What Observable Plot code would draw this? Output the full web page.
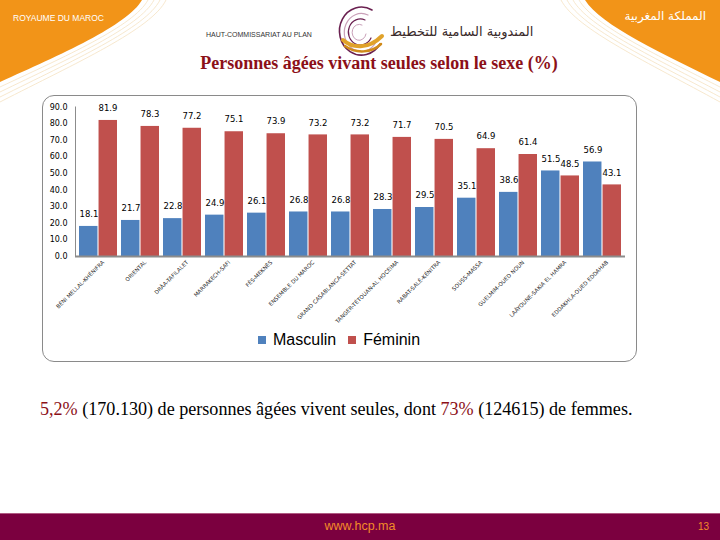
<!DOCTYPE html>
<html><head><meta charset="utf-8">
<script src="https://cdn.jsdelivr.net/npm/d3@7"></script>
<script src="https://cdn.jsdelivr.net/npm/@observablehq/plot@0.6"></script>
<style>
body{margin:0;background:#fff;}
#slide{position:relative;width:720px;height:540px;overflow:hidden;background:#fff;font-family:"Liberation Sans",Arial,sans-serif;}
.abs{position:absolute;white-space:nowrap;}
#box{position:absolute;left:42px;top:95px;width:595px;height:267px;border:1.5px solid #8a8a8a;border-radius:12px;box-sizing:border-box;}
#chart{position:absolute;left:0;top:95px;}
#legend{position:absolute;top:331px;left:258px;font-size:16px;color:#000;display:flex;align-items:center;}
#legend .sw{display:inline-block;width:8px;height:8px;margin-right:7px;}
#legend .it{display:flex;align-items:center;margin-right:12px;}
#title{position:absolute;left:0;width:758px;top:53px;text-align:center;font-family:"Liberation Serif",serif;font-weight:bold;font-size:18px;color:#8c1018;}
#note{position:absolute;left:40px;top:399px;font-family:"Liberation Serif",serif;font-size:18.1px;color:#000;}
#note .r{color:#8c1018;}
</style></head><body>
<div id="slide">
<svg width="720" height="540" style="position:absolute;left:0;top:0">
  <g fill="none" stroke="#f5e2c2" stroke-width="0.8">
    <path d="M148,0 C134,26 64,57 0,87"/>
    <path d="M154,0 C140,27 68,59 0,92"/>
    <path d="M160,0 C146,28 72,61 0,97"/>
    <path d="M166,0 C152,29 76,63 0,102"/>
    <path d="M579,0 C594,26 661,57 720,87"/>
    <path d="M573,0 C588,27 657,59 720,92"/>
    <path d="M567,0 C582,28 653,61 720,97"/>
    <path d="M561,0 C576,29 649,63 720,102"/>
  </g>
  <path d="M0,0 H142 C128,25 60,55 0,82 Z" fill="#f29418"/>
  <path d="M720,0 H585 C600,25 665,55 720,82 Z" fill="#f29418"/>
  <g fill="none" stroke-linecap="round">
    <path d="M372,10 A22,24 0 1 0 380,44" stroke="#6a2050" stroke-width="1.6"/>
    <path d="M368,15 A17,19 0 1 0 376,42" stroke="#c9a0b8" stroke-width="1.2"/>
    <path d="M365,20 A12,13 0 1 0 371,38" stroke="#6a2050" stroke-width="1.2"/>
    <path d="M362,25 A7,8 0 1 0 366,34" stroke="#c9a0b8" stroke-width="1"/>
    <path d="M343,40 C352,48 368,50 382,36" stroke="#e0a22a" stroke-width="4"/>
    <path d="M345,46 C356,54 372,53 381,44" stroke="#d08a1a" stroke-width="2.5"/>
  </g>
  <rect x="0" y="513" width="720" height="27" fill="#7b003f"/>
  <line x1="0" y1="513.5" x2="720" y2="513.5" stroke="#b05a82" stroke-width="1"/>
</svg>
<div class="abs" style="left:13px;top:13px;font-size:8.5px;color:#fff;">ROYAUME DU MAROC</div>
<div class="abs" dir="rtl" style="right:14px;top:9px;font-size:12px;color:#fff;font-family:'DejaVu Sans',sans-serif;">المملكة المغربية</div>
<div class="abs" style="left:206px;top:31px;font-size:7px;color:#333;">HAUT-COMMISSARIAT AU PLAN</div>
<div class="abs" dir="rtl" style="left:390px;top:24px;font-size:13px;color:#3a2a2a;font-family:'DejaVu Sans',sans-serif;">المندوبية السامية للتخطيط</div>
<div id="title">Personnes âgées vivant seules selon le sexe (%)</div>
<div id="box"></div>
<div id="chart"></div>
<div id="legend"></div>
<div id="note"><span class="r">5,2%</span> (170.130) de personnes âgées vivent seules, dont <span class="r">73%</span> (124615) de femmes.</div>
<div class="abs" style="left:0;width:720px;top:519px;text-align:center;font-size:12.5px;color:#f28c28;">www.hcp.ma</div>
<div class="abs" style="left:698px;top:521px;font-size:10px;color:#f28c28;">13</div>
</div>
<script>
const regions = ["BÉNI MELLAL-KHÉNIFRA","ORIENTAL","DRÂA-TAFILALET","MARRAKECH-SAFI","FÈS-MEKNÈS","ENSEMBLE DU MAROC","GRAND CASABLANCA-SETTAT","TANGER-TÉTOUAN-AL HOCEIMA","RABAT-SALÉ-KÉNITRA","SOUSS-MASSA","GUELMIM-OUED NOUN","LAÂYOUNE-SAKIA EL HAMRA","EDDAKHLA-OUED EDDAHAB"];
const sexes = ["Masculin","Féminin"];
const male = [18.1,21.7,22.8,24.9,26.1,26.8,26.8,28.3,29.5,35.1,38.6,51.5,56.9];
const female = [81.9,78.3,77.2,75.1,73.9,73.2,73.2,71.7,70.5,64.9,61.4,48.5,43.1];
const yTicks = [0,10,20,30,40,50,60,70,80,90];
const colors = ["#4f81bd","#c0504d"];

const W = 720, H = 235, ML = 75, MR = 95, MT = 11.5, MB = 74;
const padIn = 0.1, padOut = 0.05;
// band width of one region group (same band scale Plot builds), split in two bars
const bw = d3.scaleBand(regions, [ML, W - MR]).paddingInner(padIn).paddingOuter(padOut).bandwidth();
const half = bw / 2;

const mData = regions.map((r,i)=>({region:r, sex:sexes[0], value:male[i]}));
const fData = regions.map((r,i)=>({region:r, sex:sexes[1], value:female[i]}));

const chart = Plot.plot({
  width:W, height:H,
  marginLeft:ML, marginRight:MR, marginTop:MT, marginBottom:MB,
  style:{fontFamily:"DejaVu Sans, sans-serif", fontSize:"8px", color:"#000", background:"transparent", overflow:"visible"},
  x:{domain:regions, paddingInner:padIn, paddingOuter:padOut, label:null},
  y:{domain:[0,90]},
  color:{domain:sexes, range:colors},
  marks:[
    Plot.axisY({ticks:yTicks, tickFormat:d=>d.toFixed(1), tickSize:0, tickPadding:8, fontSize:8, label:null}),
    Plot.frame({anchor:"left", stroke:"#8c8c8c"}),
    Plot.barY(mData,{x:"region", y:"value", fill:"sex", insetLeft:0, insetRight:half+0.5}),
    Plot.barY(fData,{x:"region", y:"value", fill:"sex", insetLeft:half+0.5, insetRight:0}),
    Plot.text(mData,{x:"region", y:"value", text:d=>d.value.toFixed(1), dx:-half/2, dy:-12, fontSize:8.5}),
    Plot.text(fData,{x:"region", y:"value", text:d=>d.value.toFixed(1), dx:half/2, dy:-12, fontSize:8.5}),
    Plot.ruleY([0],{stroke:"#8c8c8c", strokeWidth:2}),
    Plot.axisX({tickRotate:-45, tickSize:0, tickPadding:5, dx:5, fontSize:5.5, fill:"#222", label:null})
  ]
});
document.getElementById("chart").appendChild(chart);

const leg = document.getElementById("legend");
sexes.forEach((s,i)=>{
  const it = document.createElement("span"); it.className="it";
  const sw = document.createElement("span"); sw.className="sw"; sw.style.background=colors[i];
  it.appendChild(sw); it.appendChild(document.createTextNode(s));
  leg.appendChild(it);
});
</script>
</body></html>
